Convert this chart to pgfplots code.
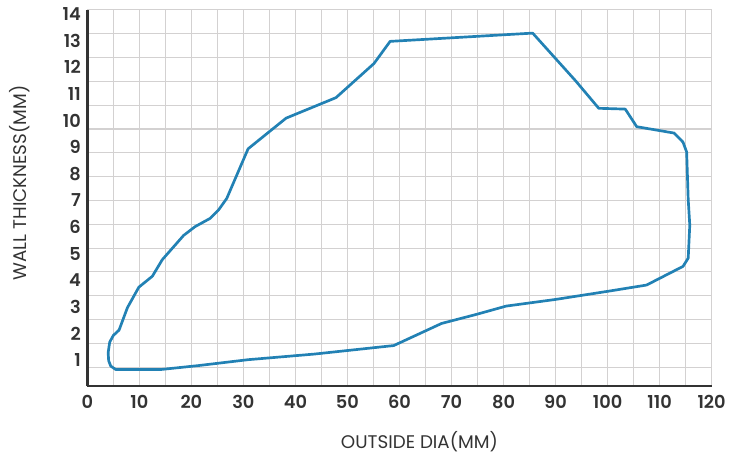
\documentclass[border=0pt]{standalone}
\usepackage{fontspec}
\setmainfont{Poppins}[BoldFont={Poppins SemiBold}]
\usepackage{pgfplots}
\pgfplotsset{compat=1.18}

\definecolor{curve}{HTML}{2281B4}
\definecolor{gridc}{HTML}{D3D1D1}
\definecolor{ink}{HTML}{333333}

\begin{document}
\begin{tikzpicture}
\begin{axis}[
    scale only axis,
    width=629bp, height=379bp,
    xmin=0, xmax=120,
    ymin=0, ymax=14.11,
    axis x line*=bottom, axis y line*=left,
    axis line style={ink, line width=2.6bp},
    xtick={0,5,...,120},
    xticklabels={0,,10,,20,,30,,40,,50,,60,,70,,80,,90,,100,,110,,120},
    ytick={1,2,...,14},
    minor ytick={0.707,1.601,2.494,3.388,4.281,5.175,6.069,6.962,7.856,8.749,9.643,10.536,11.430,12.323,13.217,14.11},
    xmajorgrids, yminorgrids, ymajorgrids=false,
    major grid style={gridc, line width=1.1bp},
    minor grid style={gridc, line width=1.1bp},
    major tick length=0pt, minor tick length=0pt,
    /pgf/number format/assume math mode=true,
    tick label style={font=\fontsize{18}{20}\selectfont\bfseries, text=ink},
    xticklabel style={yshift=-6bp},
    yticklabel style={xshift=-3bp, yshift=-1bp},
    xlabel={OUTSIDE DIA(MM)},
    ylabel={WALL THICKNESS(MM)},
    label style={font=\fontsize{18.5}{20}\selectfont, text=ink},
    xlabel style={at={(axis description cs:0.532,0)}, anchor=center, yshift=-56bp},
    ylabel style={at={(axis description cs:-0.109,0.54)}, anchor=center},
    clip=false,
]
\addplot[curve, line width=2.7bp, line join=round] coordinates {
    (14.06,0.62) (5.47,0.62) (4.5,0.75) (4.1,0.95) (4.0,1.25) (4.3,1.65)
    (5.0,1.9) (6.1,2.1) (7.7,2.94) (9.9,3.71) (12.5,4.12) (14.4,4.74)
    (18.5,5.65) (20.7,5.98) (23.6,6.29) (25.2,6.6) (26.8,7.04) (30.9,8.9)
    (38.2,10.05) (47.8,10.82) (55.1,12.1) (58.2,12.93) (85.6,13.24)
    (93.9,11.44) (98.3,10.42) (103.4,10.39) (105.6,9.73) (112.8,9.49)
    (114.5,9.15) (115.2,8.78) (115.5,7.0) (115.8,6.04) (115.5,4.8)
    (114.5,4.49) (107.5,3.79) (100.2,3.56) (90,3.25) (80.5,3.0)
    (74.8,2.69) (68.1,2.35) (58.9,1.52) (43.6,1.2) (30.9,0.99)
    (21.4,0.77) (14.06,0.62)
};
\end{axis}
\path[use as bounding box] (-88bp,-67bp) rectangle (641bp,389bp);
\end{tikzpicture}
\end{document}
